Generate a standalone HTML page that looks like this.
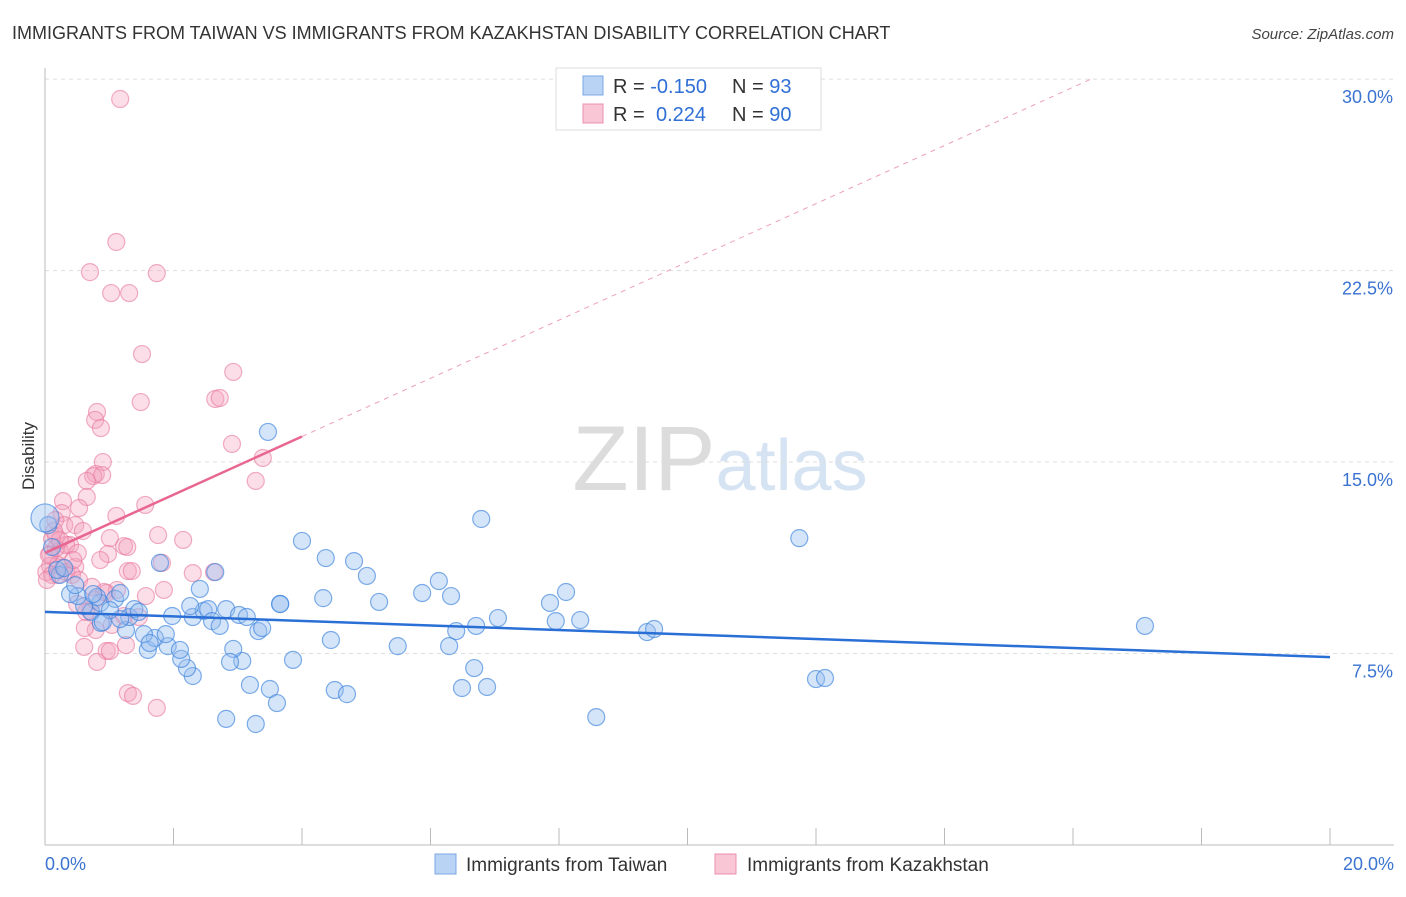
<!DOCTYPE html>
<html><head><meta charset="utf-8"><style>
body{margin:0;background:#fff;font-family:"Liberation Sans",sans-serif}
svg text{font-family:"Liberation Sans",sans-serif}
</style></head><body>
<svg id="chart" width="1406" height="892" viewBox="0 0 1406 892" xmlns="http://www.w3.org/2000/svg">
<text x="12" y="39" font-size="18" fill="#333">IMMIGRANTS FROM TAIWAN VS IMMIGRANTS FROM KAZAKHSTAN DISABILITY CORRELATION CHART</text>
<text x="1394" y="39" font-size="15" fill="#444" text-anchor="end" font-style="italic">Source: ZipAtlas.com</text>
<text x="720" y="490" font-size="92" text-anchor="middle" fill="#e6e6e6" font-family="Liberation Serif"><tspan fill="#dcdcdc">ZIP</tspan><tspan fill="#d5e3f3" font-family="Liberation Sans" font-size="72">atlas</tspan></text>
<g id="grid"></g><g id="axes"></g><g id="pts"></g><g id="trends"></g>
<text transform="translate(34,456) rotate(-90)" font-size="17" fill="#333" text-anchor="middle">Disability</text>
<g>
<rect x="556" y="68" width="265" height="62" fill="#fff" stroke="#ddd"/>
<rect x="583" y="76" width="20" height="19" fill="#b9d3f5" stroke="#7aa7e6"/>
<rect x="583" y="104" width="20" height="19" fill="#f9c6d5" stroke="#ec8fae"/>
<text x="613" y="93" font-size="20" fill="#333">R = <tspan fill="#2f6fd6">-0.150</tspan><tspan x="732">N = </tspan><tspan fill="#2f6fd6">93</tspan></text>
<text x="613" y="121" font-size="20" fill="#333">R = <tspan fill="#2f6fd6" x="656">0.224</tspan><tspan x="732">N = </tspan><tspan fill="#2f6fd6">90</tspan></text>
</g>
<g>
<rect x="435" y="854" width="21" height="20" fill="#b9d3f5" stroke="#7aa7e6"/>
<text x="466" y="871" font-size="19" fill="#333">Immigrants from Taiwan</text>
<rect x="715" y="854" width="21" height="20" fill="#f9c6d5" stroke="#ec8fae"/>
<text x="747" y="871" font-size="19" fill="#333">Immigrants from Kazakhstan</text>
</g>
</svg>
<script>
const yTicks=[7.5,15,22.5,30];
const yTickLabels=["7.5%","15.0%","22.5%","30.0%"];
const xTickLabels=["0.0%","20.0%"];
const blueX=[3.47,6.79,11.74,17.12,4.00,4.37,4.81,5.01,6.13,5.87,6.32,5.20,4.33,3.66,7.86,8.11,7.05,7.95,8.33,6.71,6.40,9.37,9.48,4.45,5.49,6.29,6.68,6.49,6.88,12.00,12.14,8.58,4.51,4.70,3.86,3.50,3.61,3.19,2.82,3.28,3.07,2.93,2.88,2.30,2.21,2.12,1.91,1.60,1.71,1.88,1.54,1.26,1.31,1.39,1.17,0.87,0.72,0.86,1.09,0.61,0.51,0.39,0.23,0.19,0.11,0.05,0.0,2.41,1.98,2.30,2.47,2.54,2.60,2.72,2.82,3.02,3.14,3.32,3.38,3.66,1.79,2.65,1.17,1.46,1.01,2.10,1.63,2.26,0.81,0.47,0.30,0.75,0.90];
const blueY=[16.18,12.77,12.02,8.58,11.91,11.24,11.12,10.54,10.34,9.87,9.75,9.52,9.67,9.44,9.48,9.91,8.89,8.77,8.81,8.58,8.38,8.34,8.46,8.03,7.79,7.79,6.93,6.15,6.19,6.50,6.54,5.01,6.07,5.91,7.25,6.11,5.56,6.27,4.94,4.74,7.21,7.68,7.17,6.62,6.93,7.29,7.79,7.64,8.11,8.26,8.26,8.42,8.93,9.24,8.85,8.70,9.13,9.48,9.64,9.36,9.75,9.83,10.58,10.77,11.67,12.53,12.81,10.03,8.97,8.93,9.17,9.24,8.77,8.58,9.24,9.01,8.93,8.38,8.50,9.44,11.05,10.69,9.87,9.13,9.20,7.64,7.91,9.36,9.71,10.18,10.85,9.83,8.73];
const pinkX=[1.17,1.11,0.70,1.74,1.03,1.31,1.51,1.49,2.93,2.65,2.72,0.81,0.78,0.87,2.91,3.39,3.28,0.90,0.79,0.75,0.89,0.65,0.65,1.56,0.28,0.53,0.26,0.16,0.17,0.30,0.47,0.59,1.11,1.76,2.15,1.01,1.23,1.28,0.39,0.23,0.08,0.98,1.82,0.08,0.20,0.28,0.47,0.02,0.11,0.20,0.33,0.42,1.29,1.35,2.30,2.63,0.53,0.96,1.12,1.57,1.85,0.50,0.70,1.23,1.46,0.79,0.62,0.61,0.96,1.01,0.81,1.26,1.29,1.37,1.74,0.06,0.17,0.11,0.03,0.33,0.51,0.73,0.92,1.04,0.64,0.78,0.23,0.44,0.86,0.14];
const pinkY=[29.22,23.62,22.44,22.40,21.62,21.62,19.23,17.35,18.53,17.47,17.51,16.96,16.65,16.33,15.71,15.16,14.26,15.00,14.53,14.45,14.49,14.26,13.63,13.32,13.47,13.20,13.00,12.73,12.10,12.53,12.53,12.30,12.89,12.14,11.95,12.02,11.71,11.67,11.75,11.52,11.40,11.40,11.05,10.93,10.97,10.85,10.89,10.69,10.58,10.58,10.69,10.58,10.73,10.73,10.65,10.69,10.38,9.87,9.99,9.75,9.99,9.44,9.17,8.97,8.93,8.42,8.50,7.76,7.60,7.60,7.17,7.83,5.95,5.84,5.37,11.36,11.63,11.99,10.38,11.75,11.44,10.11,9.91,8.62,9.13,9.60,11.95,11.16,11.16,12.30];
const blueTrend=[9.13,7.36];
const pinkTrend=[11.44,1.14];
const NS="http://www.w3.org/2000/svg";
const X0=45,X1=1330,Y0=845,PY=25.53;
const sx=v=>X0+(v/20)*(X1-X0), sy=v=>Y0-v*PY;
function mk(tag,attrs,parent){const e=document.createElementNS(NS,tag);for(const k in attrs)e.setAttribute(k,attrs[k]);parent.appendChild(e);return e;}
const grid=document.getElementById('grid'),axes=document.getElementById('axes');
yTicks.forEach((t,i)=>{
 const l=mk('line',{x1:X0,x2:1394,y1:sy(t),y2:sy(t),stroke:'#ddd','stroke-dasharray':'4,4'},grid);
 
 
 const tx=mk('text',{x:1393,y:sy(t)+24,'font-size':18,fill:'#3b73d0','text-anchor':'end'},axes);
 tx.textContent=yTickLabels[i];
 
 
});
const ax=mk('line',{x1:X0,x2:X0,y1:68,y2:845,stroke:'#bbb'},axes);


const bx=mk('line',{x1:X0,x2:1394,y1:845,y2:845,stroke:'#bbb'},axes);


for(let i=0;i<=10;i++){const x=X0+i*(X1-X0)/10;
 const t=mk('line',{x1:x,x2:x,y1:828,y2:845,stroke:'#bbb'},axes);
 
 }
[[X0,'start'],[1394,'end']].forEach((p,i)=>{
 const tx=mk('text',{x:p[0],y:870,'font-size':18,fill:'#3b73d0','text-anchor':p[1]},axes);
 tx.textContent=xTickLabels[i];
 
 });
const pts=document.getElementById('pts');
pinkX.forEach((v,i)=>{const c=mk('circle',{cx:sx(v),cy:sy(pinkY[i]),r:8.5,fill:'rgba(244,160,188,0.35)',stroke:'rgba(232,120,158,0.6)','stroke-width':1.2},pts);
 
 });
blueX.forEach((v,i)=>{const c=mk('circle',{cx:sx(v),cy:sy(blueY[i]),r:i==66?14:8.5,fill:'rgba(150,190,240,0.4)',stroke:'rgba(60,130,220,0.65)','stroke-width':1.2},pts);
 
 });
const tr=document.getElementById('trends');
const bl=mk('line',{x1:sx(0),y1:sy(blueTrend[0]),x2:sx(20),y2:sy(blueTrend[1]),stroke:'#2a6fd6','stroke-width':2.5},tr);


const pe=(30-pinkTrend[0])/pinkTrend[1];
const pd=mk('line',{x1:sx(4),y1:sy(pinkTrend[0]+4*pinkTrend[1]),x2:sx(pe),y2:sy(30),stroke:'#eda0b8','stroke-width':1,'stroke-dasharray':'5,5'},tr);


const pl=mk('line',{x1:sx(0),y1:sy(pinkTrend[0]),x2:sx(4),y2:sy(pinkTrend[0]+4*pinkTrend[1]),stroke:'#e8668f','stroke-width':2.5},tr);


</script>
</body></html>
